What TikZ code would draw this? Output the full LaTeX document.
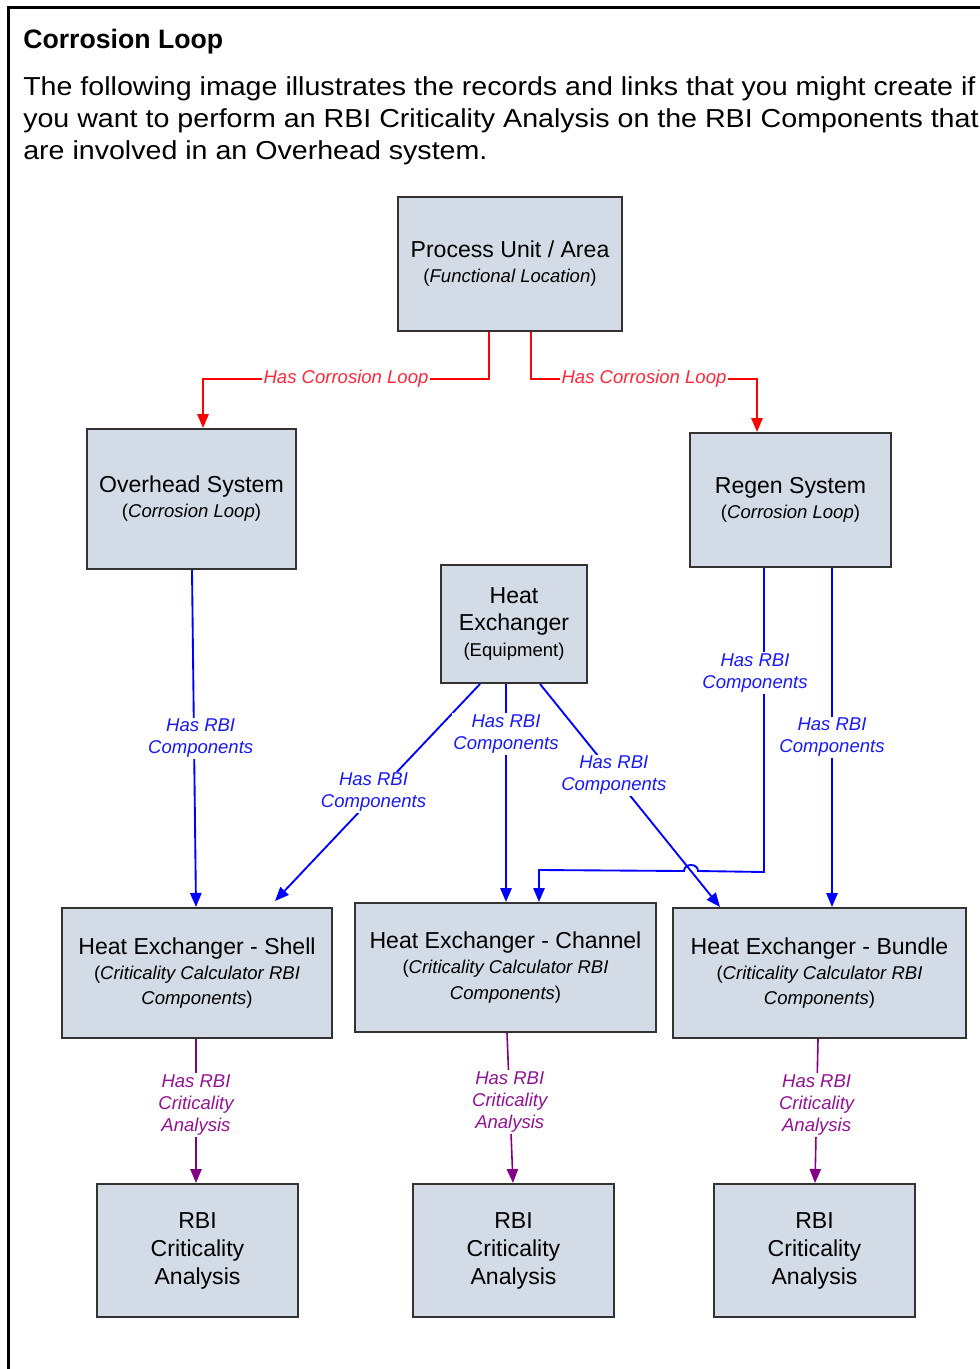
\documentclass[tikz,border=0pt]{standalone}
\usepackage{fontspec}
\setmainfont{Liberation Sans}
\newfontfamily\headfont[FakeStretch=1.1]{Liberation Sans}
\usetikzlibrary{arrows.meta,calc}
\definecolor{boxfill}{RGB}{211,220,230}
\definecolor{boxdraw}{RGB}{51,51,51}
\definecolor{cred}{RGB}{255,0,0}
\definecolor{credt}{RGB}{255,40,60}
\definecolor{cblue}{RGB}{0,0,255}
\definecolor{cbluet}{RGB}{25,25,245}
\definecolor{cpurp}{RGB}{130,0,130}
\definecolor{cpurpt}{RGB}{145,20,145}
\newcommand\mainsz{\fontsize{17.3}{18.8}\selectfont}
\newcommand\subsz{\fontsize{13.9}{16.5}\selectfont}
\newcommand\sub[1]{{\subsz #1}}
\tikzset{
  box/.style={draw=boxdraw, fill=boxfill, line width=1.5pt, align=center, inner sep=0pt, font=\mainsz},
  rel/.style={line width=1.4pt, -{Triangle[length=10.5pt,width=8.5pt]}},
  redrel/.style={rel, draw=cred},
  bluerel/.style={rel, draw=cblue},
  purprel/.style={rel, draw=cpurp, line width=1.2pt},
  lbl/.style={fill=white, inner sep=1.2pt, align=center, font=\fontsize{13.9}{16.5}\selectfont\itshape},
  redlbl/.style={lbl, text=credt},
  bluelbl/.style={lbl, text=cbluet},
  purplbl/.style={lbl, text=cpurpt},
  headline/.style={anchor=base west, inner sep=0pt, font=\headfont\fontsize{19.5}{24}\selectfont},
}
\begin{document}
\begin{tikzpicture}[x=0.75pt,y=-0.75pt]
\useasboundingbox (0,0) rectangle (980,1369);
\draw[line width=2.25pt] (8,1400) -- (8,8) -- (1000,8);

% header
\node[anchor=base west, inner sep=0pt, font=\fontsize{20}{24}\selectfont\bfseries] (title) at (23,49) {Corrosion Loop};
\node[headline] (para1) at (23,96) {The following image illustrates the records and links that you might create if};
\node[headline] (para2) at (23,128) {you want to perform an RBI Criticality Analysis on the RBI Components that};
\node[headline] (para3) at (23,160) {are involved in an Overhead system.};

% boxes
\node[box, minimum width=168pt, minimum height=100.5pt] (PU) at (510,264)
  {Process Unit / Area\\\sub{(\textit{Functional Location})}};
\node[box, minimum width=156.75pt, minimum height=105pt] (OV) at (191.5,499)
  {Overhead System\\\sub{(\textit{Corrosion Loop})}};
\node[box, minimum width=150.75pt, minimum height=100.5pt] (RG) at (790.5,500)
  {Regen System\\\sub{(\textit{Corrosion Loop})}};
\node[box, minimum width=109.5pt, minimum height=88.5pt, font=\fontsize{17.3}{20.2}\selectfont] (HX) at (514,624)
  {Heat\\Exchanger\\\sub{(Equipment)}};
\node[box, minimum width=202.5pt, minimum height=97.5pt] (SH) at (197,973)
  {Heat Exchanger - Shell\\\sub{(\textit{Criticality Calculator RBI}}\\\sub{\textit{Components})}};
\node[box, minimum width=225.75pt, minimum height=96.75pt] (CH) at (505.5,967.5)
  {Heat Exchanger - Channel\\\sub{(\textit{Criticality Calculator RBI}}\\\sub{\textit{Components})}};
\node[box, minimum width=219.75pt, minimum height=97.5pt] (BU) at (819.5,973)
  {Heat Exchanger - Bundle\\\sub{(\textit{Criticality Calculator RBI}}\\\sub{\textit{Components})}};
\node[box, minimum width=150.75pt, minimum height=99.75pt, font=\fontsize{17.3}{21}\selectfont] (RB1) at (197.5,1250.5)
  {RBI\\Criticality\\Analysis};
\node[box, minimum width=150.75pt, minimum height=99.75pt, font=\fontsize{17.3}{21}\selectfont] (RB2) at (513.5,1250.5)
  {RBI\\Criticality\\Analysis};
\node[box, minimum width=150.75pt, minimum height=99.75pt, font=\fontsize{17.3}{21}\selectfont] (RB3) at (814.5,1250.5)
  {RBI\\Criticality\\Analysis};

% red connectors
\draw[redrel] ($(PU.south)+(-21,0)$) -- ++(0,47) -| node[redlbl, pos=0.25]{Has Corrosion Loop} ($(OV.north)+(11.5,0)$);
\draw[redrel] ($(PU.south)+(21,0)$) -- ++(0,47) -| node[redlbl, pos=0.25]{Has Corrosion Loop} ($(RG.north)+(-33.5,0)$);

% blue connectors
\draw[bluerel] ($(OV.south)+(0.5,0)$) -- node[bluelbl, midway, xshift=5pt]{Has RBI\\Components} ($(SH.north)+(-1,0)$);
\draw[bluerel] ($(HX.south)+(-34,0)$) -- node[bluelbl, midway, xshift=-3pt]{Has RBI\\Components} ($(SH.north)+(78,-6)$);
\draw[bluerel] ($(HX.south)+(-8,0)$) -- node[bluelbl, pos=0.23]{Has RBI\\Components} ($(CH.north)+(0.5,0)$);
\draw[bluerel] ($(HX.south)+(26,0)$) -- node[bluelbl, pos=0.41]{Has RBI\\Components} ($(BU.north)+(-99.5,0)$);
\draw[bluerel] ($(RG.south)+(-26.5,0)$) -- node[bluelbl, pos=0.345, xshift=-6.75pt]{Has RBI\\Components} ($(RG.south)+(-26.5,304)$)
  -- (698,871) .. controls (698,863) and (684,863) .. (684,871)
  -- ($(CH.north)+(33.5,-32)$) -- ($(CH.north)+(33.5,0)$);
\draw[bluerel] ($(RG.south)+(41.5,0)$) -- node[bluelbl, midway]{Has RBI\\Components} ($(BU.north)+(12.5,0)$);

% purple connectors
\draw[purprel] ($(SH.south)+(-1,0)$) -- node[purplbl, pos=0.46]{Has RBI\\Criticality\\Analysis} ($(RB1.north)+(-1.5,0)$);
\draw[purprel] ($(CH.south)+(1.5,0)$) -- node[purplbl, pos=0.46]{Has RBI\\Criticality\\Analysis} ($(RB2.north)+(-0.5,0)$);
\draw[purprel] ($(BU.south)+(-1.5,0)$) -- node[purplbl, pos=0.46]{Has RBI\\Criticality\\Analysis} ($(RB3.north)+(0.5,0)$);
\end{tikzpicture}
\end{document}
